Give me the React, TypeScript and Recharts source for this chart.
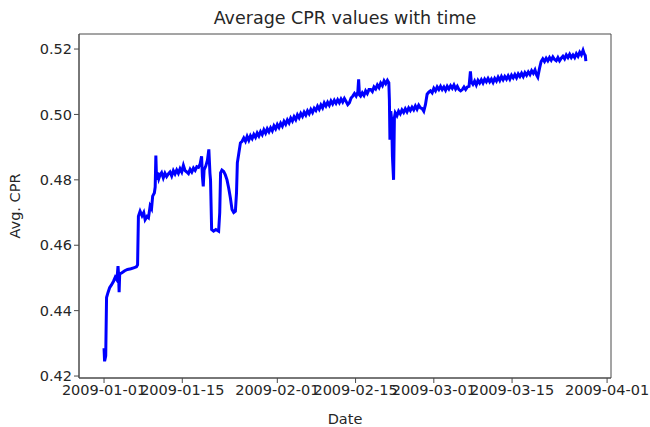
import React from 'react';
import { LineChart, Line, XAxis, YAxis, Label, ReferenceArea } from 'recharts';

// days since 2009-01-01
const days = [
  0.0, 0.1, 0.3, 0.45, 0.7, 1.0, 1.3, 1.7, 2.0, 2.3, 2.5, 2.6, 2.7, 2.8, 3.2, 3.7, 4.2, 4.8, 5.3, 5.8,
  6.0, 6.15, 6.45, 6.8, 7.1, 7.35, 7.7, 7.95, 8.25, 8.5, 8.7, 9.0, 9.15, 9.27, 9.4, 9.6, 9.8, 10.0, 10.3, 10.6,
  10.9, 11.2, 11.5, 11.8, 12.1, 12.4, 12.7, 13.0, 13.3, 13.6, 13.9, 14.2, 14.5, 14.8, 15.1, 15.4, 15.7, 16.0, 16.3, 16.6,
  16.9, 17.2, 17.45, 17.6, 17.75, 17.9, 18.2, 18.5, 18.75, 18.95, 19.05, 19.25, 19.6, 20.0, 20.5, 20.7, 20.85, 21.1, 21.4, 21.7,
  22.0, 22.3, 22.6, 22.9, 23.2, 23.5, 23.7, 23.85, 24.1, 24.4, 24.7, 25.0, 25.3, 25.6, 25.9, 26.2, 26.5, 26.8, 27.1, 27.4,
  27.7, 28.0, 28.3, 28.6, 28.9, 29.2, 29.5, 29.8, 30.1, 30.4, 30.7, 31.0, 31.3, 31.6, 31.9, 32.2, 32.5, 32.8, 33.1, 33.4,
  33.7, 34.0, 34.3, 34.6, 34.9, 35.2, 35.5, 35.8, 36.1, 36.4, 36.7, 37.0, 37.3, 37.6, 37.9, 38.2, 38.5, 38.8, 39.1, 39.4,
  39.7, 40.0, 40.3, 40.6, 40.9, 41.2, 41.5, 41.8, 42.1, 42.4, 42.7, 43.0, 43.3, 43.6, 43.9, 44.2, 44.5, 44.8, 45.1, 45.4,
  45.55, 45.7, 45.9, 46.2, 46.5, 46.8, 47.1, 47.4, 47.7, 48.0, 48.3, 48.6, 48.9, 49.2, 49.5, 49.8, 50.1, 50.4, 50.7, 50.95,
  51.05, 51.15, 51.3, 51.45, 51.6, 51.8, 51.95, 52.1, 52.4, 52.7, 53.0, 53.3, 53.6, 53.9, 54.2, 54.5, 54.8, 55.1, 55.4, 55.7,
  56.0, 56.3, 56.6, 56.9, 57.2, 57.5, 57.8, 58.1, 58.4, 58.7, 59.0, 59.3, 59.6, 59.9, 60.2, 60.5, 60.8, 61.1, 61.4, 61.7,
  62.0, 62.3, 62.6, 62.9, 63.2, 63.5, 63.8, 64.1, 64.4, 64.7, 65.0, 65.3, 65.55, 65.7, 66.0, 66.3, 66.6, 66.9, 67.2, 67.5,
  67.8, 68.1, 68.4, 68.7, 69.0, 69.3, 69.6, 69.9, 70.2, 70.5, 70.8, 71.1, 71.4, 71.7, 72.0, 72.3, 72.6, 72.9, 73.2, 73.5,
  73.8, 74.1, 74.4, 74.7, 75.0, 75.3, 75.6, 75.9, 76.2, 76.5, 76.8, 77.1, 77.4, 77.6, 77.9, 78.2, 78.5, 78.8, 79.1, 79.4,
  79.7, 80.0, 80.3, 80.6, 80.9, 81.2, 81.5, 81.8, 82.1, 82.4, 82.7, 83.0, 83.3, 83.6, 83.9, 84.2, 84.5, 84.8, 85.1, 85.4,
  85.7, 85.9, 86.1, 86.2,
];

const cpr = [
  0.4285, 0.4245, 0.4262, 0.4440, 0.4455, 0.4470, 0.4478, 0.4490, 0.4502, 0.4494, 0.4536, 0.4510, 0.4456, 0.4512, 0.4516, 0.4522, 0.4526, 0.4528, 0.4531, 0.4534,
  0.4540, 0.4689, 0.4704, 0.4690, 0.4700, 0.4678, 0.4688, 0.4684, 0.4720, 0.4712, 0.4750, 0.4760, 0.4778, 0.4874, 0.4800, 0.4822, 0.4804, 0.4814, 0.4822, 0.4806,
  0.4820, 0.4810, 0.4818, 0.4824, 0.4812, 0.4828, 0.4818, 0.4830, 0.4820, 0.4834, 0.4824, 0.4844, 0.4828, 0.4824, 0.4819, 0.4832, 0.4824, 0.4836, 0.4829, 0.4840,
  0.4838, 0.4849, 0.4872, 0.4810, 0.4780, 0.4830, 0.4842, 0.4860, 0.4893, 0.4820, 0.4800, 0.4648, 0.4643, 0.4648, 0.4643, 0.4700, 0.4821, 0.4830, 0.4826, 0.4815,
  0.4800, 0.4775, 0.4745, 0.4709, 0.4700, 0.4704, 0.4760, 0.4852, 0.4880, 0.4913, 0.4918, 0.4928, 0.4918, 0.4933, 0.4921, 0.4935, 0.4926, 0.4939, 0.4930, 0.4943,
  0.4934, 0.4947, 0.4938, 0.4953, 0.4943, 0.4956, 0.4947, 0.4959, 0.4950, 0.4965, 0.4956, 0.4969, 0.4960, 0.4973, 0.4964, 0.4979, 0.4970, 0.4983, 0.4974, 0.4989,
  0.4980, 0.4993, 0.4984, 0.4999, 0.4990, 0.5003, 0.4994, 0.5007, 0.4998, 0.5011, 0.5002, 0.5015, 0.5006, 0.5019, 0.5012, 0.5025, 0.5016, 0.5029, 0.5020, 0.5035,
  0.5026, 0.5037, 0.5028, 0.5041, 0.5032, 0.5043, 0.5034, 0.5045, 0.5036, 0.5047, 0.5038, 0.5049, 0.5040, 0.5030, 0.5036, 0.5050, 0.5056, 0.5064, 0.5056, 0.5068,
  0.5107, 0.5060, 0.5056, 0.5066, 0.5058, 0.5072, 0.5064, 0.5076, 0.5076, 0.5070, 0.5084, 0.5078, 0.5090, 0.5082, 0.5096, 0.5088, 0.5103, 0.5094, 0.5104, 0.5097,
  0.5046, 0.4923, 0.5010, 0.4984, 0.4870, 0.4800, 0.4990, 0.5005, 0.4996, 0.5010, 0.5002, 0.5014, 0.5006, 0.5017, 0.5008, 0.5020, 0.5012, 0.5022, 0.5014, 0.5026,
  0.5016, 0.5028, 0.5020, 0.5018, 0.5010, 0.5030, 0.5062, 0.5068, 0.5072, 0.5066, 0.5080, 0.5072, 0.5084, 0.5076, 0.5086, 0.5076, 0.5084, 0.5074, 0.5086, 0.5078,
  0.5088, 0.5080, 0.5090, 0.5078, 0.5086, 0.5076, 0.5072, 0.5076, 0.5084, 0.5076, 0.5084, 0.5086, 0.5132, 0.5100, 0.5092, 0.5102, 0.5090, 0.5104, 0.5096, 0.5106,
  0.5096, 0.5108, 0.5100, 0.5110, 0.5100, 0.5108, 0.5098, 0.5110, 0.5102, 0.5114, 0.5104, 0.5116, 0.5106, 0.5116, 0.5108, 0.5118, 0.5108, 0.5120, 0.5112, 0.5122,
  0.5112, 0.5124, 0.5116, 0.5126, 0.5116, 0.5128, 0.5120, 0.5130, 0.5122, 0.5134, 0.5126, 0.5136, 0.5120, 0.5114, 0.5140, 0.5162, 0.5170, 0.5162, 0.5172, 0.5164,
  0.5174, 0.5166, 0.5176, 0.5168, 0.5164, 0.5174, 0.5164, 0.5172, 0.5178, 0.5170, 0.5182, 0.5174, 0.5184, 0.5174, 0.5182, 0.5174, 0.5186, 0.5178, 0.5190, 0.5182,
  0.5196, 0.5186, 0.5180, 0.5163,
];

const xTicks = [0, 14, 31, 45, 59, 73, 90];
const xTickLabels = ['2009-01-01', '2009-01-15', '2009-02-01', '2009-02-15', '2009-03-01', '2009-03-15', '2009-04-01'];
const yTicks = [0.42, 0.44, 0.46, 0.48, 0.5, 0.52];

const data = days.map((d, i) => ({ day: d, cpr: cpr[i] }));

const FONT = 'DejaVu Sans, sans-serif';
const SPINE = '#4a4a4a';
const TEXT = '#262626';
const X_DOMAIN = [-4.48, 90.7];
const Y_DOMAIN = [0.4194, 0.5246];

export default function App() {
  const tickStyle = { fill: TEXT, fontSize: 14.5, fontFamily: FONT };
  return (
    <div style={{ position: 'absolute', left: 0, top: 0, width: 650, height: 427, background: '#fff' }}>
      <LineChart width={650} height={427} data={data} margin={{ top: 34, right: 39, bottom: 19, left: 19 }}>
        <text x={345} y={24} textAnchor="middle" fontSize={17.5} fontFamily={FONT} fill={TEXT}>
          Average CPR values with time
        </text>
        <XAxis
          xAxisId="x"
          dataKey="day"
          type="number"
          domain={X_DOMAIN}
          allowDataOverflow
          ticks={xTicks}
          tickFormatter={(v: number) => xTickLabels[xTicks.indexOf(v)] ?? ''}
          interval={0}
          height={30}
          stroke={SPINE}
          tick={tickStyle}
          tickSize={5}
          tickLine={{ stroke: SPINE }}
        >
          <Label value="Date" position="insideBottom" offset={-16} style={{ fill: TEXT, fontSize: 14.5, fontFamily: FONT }} />
        </XAxis>
        <YAxis
          yAxisId="y"
          type="number"
          domain={Y_DOMAIN}
          allowDataOverflow
          ticks={yTicks}
          tickFormatter={(v: number) => v.toFixed(2)}
          width={60}
          stroke={SPINE}
          tick={tickStyle}
          tickSize={5}
          tickLine={{ stroke: SPINE }}
        >
          <Label value="Avg. CPR" angle={-90} position="insideLeft" offset={-4} style={{ fill: TEXT, fontSize: 14.5, fontFamily: FONT, textAnchor: 'middle' }} />
        </YAxis>
        <ReferenceArea
          xAxisId="x"
          yAxisId="y"
          x1={X_DOMAIN[0]}
          x2={X_DOMAIN[1]}
          y1={Y_DOMAIN[0]}
          y2={Y_DOMAIN[1]}
          fill="none"
          stroke={SPINE}
          strokeWidth={1}
          ifOverflow="visible"
        />
        <Line
          xAxisId="x"
          yAxisId="y"
          type="linear"
          dataKey="cpr"
          stroke="#0000ff"
          strokeWidth={3}
          dot={false}
          isAnimationActive={false}
        />
      </LineChart>
    </div>
  );
}
